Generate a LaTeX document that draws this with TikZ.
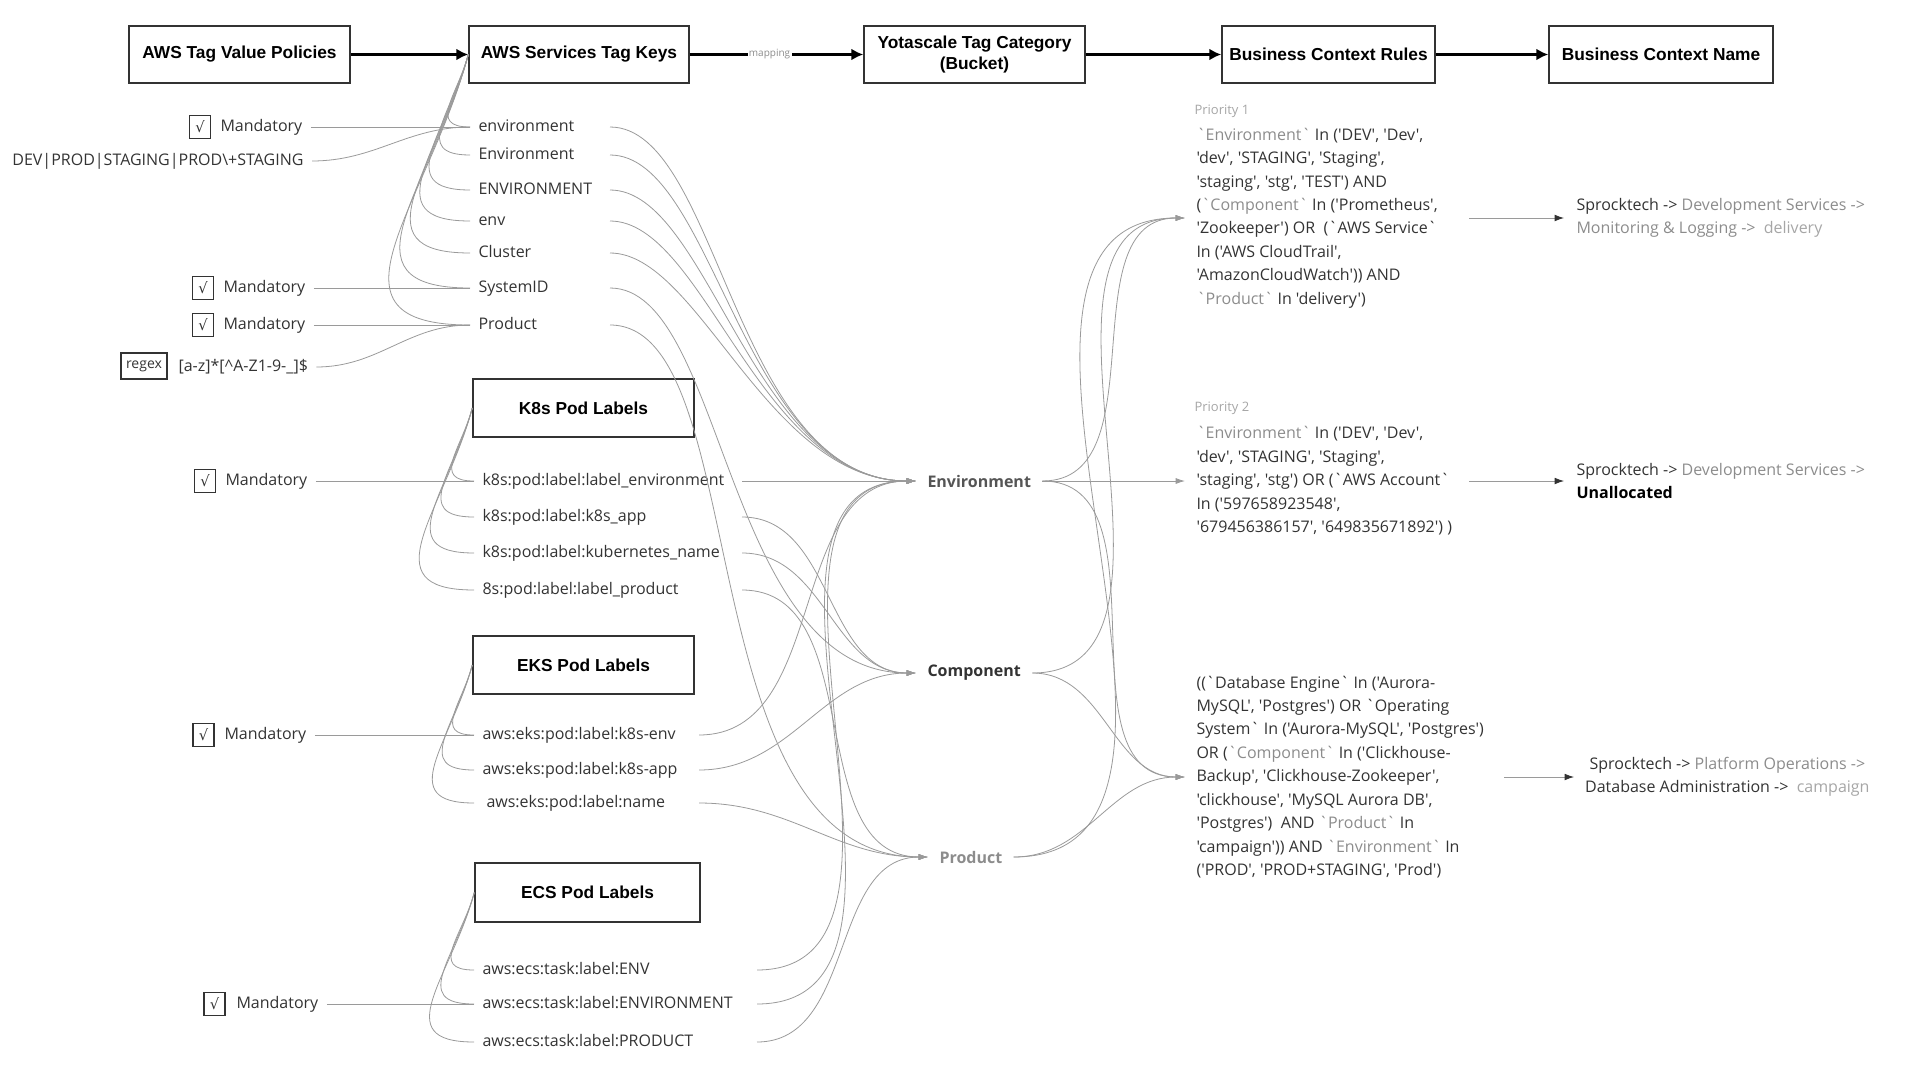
\documentclass[tikz,border=0pt]{standalone}
\usepackage{fontspec}
\setmainfont{Open Sans}[Ligatures=TeXOff]
\newfontfamily\boxfont{Liberation Sans}
\newfontfamily\tickfont{DejaVu Sans}
\usetikzlibrary{arrows.meta}
\hyphenpenalty=10000
\exhyphenpenalty=10000
\hbadness=10000
\hfuzz=200pt
\definecolor{ink}{HTML}{333333}
\definecolor{catgray}{HTML}{555555}
\definecolor{softgray}{HTML}{8C8C8C}
\definecolor{palegray}{HTML}{A6A6A6}
\definecolor{wire}{HTML}{9A9A9A}
\newcommand{\soft}[1]{{\color{softgray}#1}}
\newcommand{\pale}[1]{{\color{palegray}#1}}
\tikzset{every picture/.style={line width=0.75pt}}
\tikzset{
  headbox/.style={draw=ink,line width=1.1pt,minimum height=42.75pt,inner sep=0pt,align=center,text=black,font=\boxfont\bfseries\fontsize{13}{15.5}\selectfont},
  flow/.style={line width=2pt,-{Latex[length=9pt,width=9pt]}},
  tagkey/.style={anchor=west,align=left,inner xsep=6pt,inner ysep=0pt,text height=8.6pt,text depth=2.4pt,text=ink,font=\fontsize{12}{14}\selectfont},
  wireline/.style={draw=wire,line width=0.6pt},
  wirearrow/.style={wireline,-{Latex[length=7pt,width=4.5pt]}},
  fanout/.style={out=105,in=180,looseness=1.5},
  merge/.style={out=0,in=180},
  tickbox/.style={draw=ink,line width=0.8pt,minimum width=15.75pt,minimum height=17.25pt,inner sep=0pt,text=ink,font=\tickfont\fontsize{11}{11}\selectfont},
  bucket/.style={anchor=west,inner xsep=8.25pt,font=\bfseries\fontsize{12}{14}\selectfont},
  ruletext/.style={anchor=west,align=left,inner xsep=8.25pt,inner ysep=0pt,text=ink,font=\fontsize{12}{17.6}\selectfont},
  bizname/.style={anchor=west,align=left,inner xsep=9pt,inner ysep=0pt,text=ink,font=\fontsize{12}{17.25}\selectfont},
  prio/.style={anchor=west,inner xsep=4.5pt,text=palegray,font=\fontsize{9.75}{11}\selectfont},
}

\begin{document}
\begin{tikzpicture}[x=0.75pt,y=0.75pt,yscale=-1,xscale=1]
\useasboundingbox (0,0) rectangle (1920,1074);

%Shape: Rectangle [top row]
\draw (239.5,54.5) node (tvp) [headbox,minimum width=165.75pt] {AWS Tag Value Policies};
\draw (579,54.5) node (tkeys) [headbox,minimum width=165pt] {AWS Services Tag Keys};
\draw (974.5,54.5) node (ycat) [headbox,minimum width=165.75pt] {Yotascale Tag Category\\(Bucket)};
\draw (1328.5,54.5) node (bcr) [headbox,minimum width=159.75pt] {Business Context Rules};
\draw (1661,54.5) node (bcn) [headbox,minimum width=168pt] {Business Context Name};

%Straight Lines [top row arrows]
\draw [flow] (tvp) -- (tkeys);
\draw [flow] (tkeys) -- node [pos=0.46,fill=white,inner sep=1pt,text=softgray,font=\fontsize{7.5}{8}\selectfont] {mapping} (ycat);
\draw [flow] (ycat) -- (bcr);
\draw [flow] (bcr) -- (bcn);

%Shape: Rectangle [label sources]
\draw (583.5,408) node (k8sbox) [headbox,minimum width=165.75pt,minimum height=43.5pt] {K8s Pod Labels};
\draw (583.5,665) node (eksbox) [headbox,minimum width=165.75pt,minimum height=43.5pt] {EKS Pod Labels};
\draw (587.5,892.5) node (ecsbox) [headbox,minimum width=168.75pt,minimum height=44.25pt] {ECS Pod Labels};

% Text Node [aws tag keys]
\draw (470,127) node (tk1) [tagkey,text width=92.25pt] {environment};
\draw (470,155) node (tk2) [tagkey,text width=92.25pt] {Environment};
\draw (470,190) node (tk3) [tagkey,text width=92.25pt] {ENVIRONMENT};
\draw (470,221) node (tk4) [tagkey,text width=92.25pt] {env};
\draw (470,253) node (tk5) [tagkey,text width=92.25pt] {Cluster};
\draw (470,288) node (tk6) [tagkey,text width=92.25pt] {SystemID};
\draw (470,325) node (tk7) [tagkey,text width=92.25pt] {Product};

% Text Node [k8s labels]
\draw (474,481) node (k81) [tagkey,text width=188.25pt] {k8s:pod:label:label\_environment};
\draw (474,517) node (k82) [tagkey,text width=188.25pt] {k8s:pod:label:k8s\_app};
\draw (474,553) node (k83) [tagkey,text width=188.25pt] {k8s:pod:label:kubernetes\_name};
\draw (474,590) node (k84) [tagkey,text width=188.25pt] {8s:pod:label:label\_product};

% Text Node [eks labels]
\draw (474,735) node (eks1) [tagkey,text width=156pt] {aws:eks:pod:label:k8s-env};
\draw (474,770) node (eks2) [tagkey,text width=156pt] {aws:eks:pod:label:k8s-app};
\draw (474,803) node (eks3) [tagkey,text width=156pt] {\hspace*{3pt}aws:eks:pod:label:name};

% Text Node [ecs labels]
\draw (474,970) node (ecs1) [tagkey,text width=199.5pt] {aws:ecs:task:label:ENV};
\draw (474,1004) node (ecs2) [tagkey,text width=199.5pt] {aws:ecs:task:label:ENVIRONMENT};
\draw (474,1042) node (ecs3) [tagkey,text width=199.5pt] {aws:ecs:task:label:PRODUCT};

% Text Node [policies]
\draw (200,127) node (chk1) [tickbox] {√};
\draw (212,127) node (mand1) [tagkey] {Mandatory};
\draw (312,161) node (devrx) [tagkey,anchor=east] {DEV|PROD|STAGING|PROD\textbackslash+STAGING};
\draw (203,288) node (chk2) [tickbox] {√};
\draw (215,288) node (mand2) [tagkey] {Mandatory};
\draw (203,325) node (chk3) [tickbox] {√};
\draw (215,325) node (mand3) [tagkey] {Mandatory};
\draw (144,366) node (rxbox) [draw=ink,line width=0.8pt,minimum width=34.5pt,minimum height=19.5pt,inner sep=0pt,text=ink,font=\fontsize{10.5}{12}\selectfont] {regex};
\draw (170,367) node (rxval) [tagkey] {[a-z]*[\textasciicircum A-Z1-9-\_]\$};
\draw (205,481) node (chk4) [tickbox] {√};
\draw (217,481) node (mand4) [tagkey] {Mandatory};
\draw (203.5,735) node (chk5) [tickbox] {√};
\draw (216,735) node (mand5) [tagkey] {Mandatory};
\draw (214.5,1004) node (chk6) [tickbox] {√};
\draw (228,1004) node (mand6) [tagkey] {Mandatory};

%Straight Lines [policies to keys]
\draw [wireline] (mand1.east) -- (tk1.west);
\draw [wireline] (devrx.east) to[merge] (tk1.west);
\draw [wireline] (mand2.east) -- (tk6.west);
\draw [wireline] (mand3.east) -- (tk7.west);
\draw [wireline] (rxval.east) to[merge] (tk7.west);
\draw [wireline] (mand4.east) -- (k81.west);
\draw [wireline] (mand5.east) -- (eks1.west);
\draw [wireline] (mand6.east) -- (ecs2.west);

%Curve Lines [sources fan out]
\draw [wireline] (tkeys.west) to[fanout] (tk1.west);
\draw [wireline] (tkeys.west) to[fanout] (tk2.west);
\draw [wireline] (tkeys.west) to[fanout] (tk3.west);
\draw [wireline] (tkeys.west) to[fanout] (tk4.west);
\draw [wireline] (tkeys.west) to[fanout] (tk5.west);
\draw [wireline] (tkeys.west) to[fanout] (tk6.west);
\draw [wireline] (tkeys.west) to[fanout] (tk7.west);
\draw [wireline] (k8sbox.west) to[fanout] (k81.west);
\draw [wireline] (k8sbox.west) to[fanout] (k82.west);
\draw [wireline] (k8sbox.west) to[fanout] (k83.west);
\draw [wireline] (k8sbox.west) to[fanout] (k84.west);
\draw [wireline] (eksbox.west) to[fanout] (eks1.west);
\draw [wireline] (eksbox.west) to[fanout] (eks2.west);
\draw [wireline] (eksbox.west) to[fanout] (eks3.west);
\draw [wireline] (ecsbox.west) to[fanout] (ecs1.west);
\draw [wireline] (ecsbox.west) to[fanout] (ecs2.west);
\draw [wireline] (ecsbox.west) to[fanout] (ecs3.west);

% Text Node [buckets]
\draw (916,481) node (cenv) [bucket,text=catgray] {Environment};
\draw (916,673) node (ccomp) [bucket,text=ink] {Component};
\draw (928,857) node (cprod) [bucket,text=softgray] {Product};

%Curve Lines [keys to buckets]
\draw [wirearrow] (tk1.east) to[merge,out looseness=0.6] (cenv.west);
\draw [wirearrow] (tk2.east) to[merge,out looseness=0.6] (cenv.west);
\draw [wirearrow] (tk3.east) to[merge,out looseness=0.6] (cenv.west);
\draw [wirearrow] (tk4.east) to[merge,out looseness=0.6] (cenv.west);
\draw [wirearrow] (tk5.east) to[merge,out looseness=0.6] (cenv.west);
\draw [wirearrow] (k81.east) -- (cenv.west);
\draw [wirearrow] (eks1.east) to[merge] (cenv.west);
\draw [wirearrow] (ecs1.east) to[merge] (cenv.west);
\draw [wirearrow] (ecs2.east) to[merge] (cenv.west);
\draw [wirearrow] (tk6.east) to[merge,out looseness=0.6] (ccomp.west);
\draw [wirearrow] (k82.east) to[merge] (ccomp.west);
\draw [wirearrow] (k83.east) to[merge] (ccomp.west);
\draw [wirearrow] (eks2.east) to[merge] (ccomp.west);
\draw [wirearrow] (tk7.east) to[merge,out looseness=0.6] (cprod.west);
\draw [wirearrow] (k84.east) to[merge] (cprod.west);
\draw [wirearrow] (eks3.east) to[merge] (cprod.west);
\draw [wirearrow] (ecs3.east) to[merge] (cprod.west);

% Text Node [rules]
\draw (1188,111) node (prio1) [prio] {Priority 1};
\draw (1185,218) node (rule1) [ruletext] {\soft{`Environment`} In ('DEV', 'Dev',\\
'dev', 'STAGING', 'Staging',\\
'staging', 'stg', 'TEST') AND\\
(\soft{`Component`} In ('Prometheus',\\
'Zookeeper') OR~ (`AWS Service`\\
In ('AWS CloudTrail',\\
'AmazonCloudWatch')) AND\\
\soft{`Product`} In 'delivery')};
\draw (1188,408) node (prio2) [prio] {Priority 2};
\draw (1185,481) node (rule2) [ruletext] {\soft{`Environment`} In ('DEV', 'Dev',\\
'dev', 'STAGING', 'Staging',\\
'staging', 'stg') OR (`AWS Account`\\
In ('597658923548',\\
'679456386157', '649835671892') )};
\draw (1185,777) node (rule3) [ruletext] {((`Database Engine` In ('Aurora-\\
MySQL', 'Postgres') OR `Operating\\
System` In ('Aurora-MySQL', 'Postgres')\\
OR (\soft{`Component`} In ('Clickhouse-\\
Backup', 'Clickhouse-Zookeeper',\\
'clickhouse', 'MySQL Aurora DB',\\
'Postgres')~ AND \soft{`Product`} In\\
'campaign')) AND \soft{`Environment`} In\\
('PROD', 'PROD+STAGING', 'Prod')};

%Curve Lines [buckets to rules]
\draw [wirearrow] (cenv.east) to[merge] (rule1.west);
\draw [wirearrow] (cenv.east) -- (rule2.west);
\draw [wirearrow] (cenv.east) to[merge] (rule3.west);
\draw [wirearrow] (ccomp.east) to[merge] (rule1.west);
\draw [wirearrow] (ccomp.east) to[merge] (rule3.west);
\draw [wirearrow] (cprod.east) to[merge] (rule1.west);
\draw [wirearrow] (cprod.east) to[merge] (rule3.west);

% Text Node [business context names]
\draw (1564,218) node (name1) [bizname] {Sprocktech -> \soft{Development Services ->}\\\soft{Monitoring \& Logging ->}~ \pale{delivery}};
\draw (1564,481) node (name2) [bizname] {Sprocktech -> \soft{Development Services ->}\\{\color{black}\bfseries Unallocated}};
\draw (1574,777) node (name3) [bizname,align=center,inner xsep=8pt] {Sprocktech -> \soft{Platform Operations ->}\\Database Administration ->~ \pale{campaign}};

%Straight Lines [rules to names]
\coordinate (r1out) at (1469,218);
\coordinate (r2out) at (1469,481);
\coordinate (r3out) at (1504,777);
\draw [wireline,-{Latex[length=7pt,width=5pt,color=ink]}] (r1out) -- (name1.west);
\draw [wireline,-{Latex[length=7pt,width=5pt,color=ink]}] (r2out) -- (name2.west);
\draw [wireline,-{Latex[length=7pt,width=5pt,color=ink]}] (r3out) -- (name3.west);

\end{tikzpicture}
\end{document}
